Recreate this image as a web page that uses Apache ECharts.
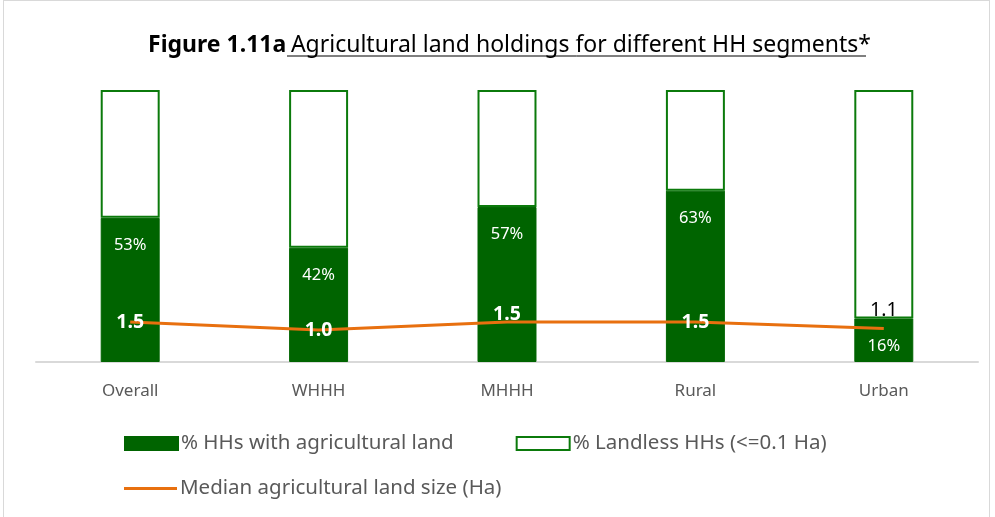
<!DOCTYPE html>
<html>
<head>
<meta charset="utf-8">
<script src="https://cdn.jsdelivr.net/npm/echarts@6/dist/echarts.min.js"></script>
<style>
  html, body { margin: 0; padding: 0; background: #fff; }
  #main { position: absolute; left: 3px; top: 0; width: 987px; height: 520px; border: 1px solid #d9d9d9; box-sizing: border-box; }
</style>
</head>
<body>
<div id="main"></div>
<script>
// segments and values
var categories = ['Overall', 'WHHH', 'MHHH', 'Rural', 'Urban'];
var withLand = [53, 42, 57, 63, 16];      // % HHs with agricultural land
var landless = [47, 58, 43, 37, 84];      // % landless HHs
var medianSize = [1.5, 1.0, 1.5, 1.5, 1.1]; // median land size (Ha)

// how each median label sits (style only)
var medianLabelPos = ['inside', 'inside', 'top', 'inside', 'top'];
var medianLabelGap = [0, 0, -2, 0, 8];

var chart = echarts.init(document.getElementById('main'));
var font = '"Noto Sans", sans-serif';

var lineData = medianSize.map(function (v, i) {
  var onWhite = i === 4;
  return {
    value: v,
    label: {
      position: medianLabelPos[i],
      distance: medianLabelGap[i],
      color: onWhite ? '#000' : '#fff',
      fontWeight: onWhite ? 'normal' : 'bold'
    }
  };
});

var option = {
  backgroundColor: '#fff',
  animation: false,
  textStyle: { fontFamily: font },
  title: {
    text: '{b|Figure 1.11a} {n|Agricultural land holdings for different HH segments*}',
    left: 139,
    top: 28,
    textStyle: {
      rich: {
        b: { fontFamily: font, fontSize: 23, fontWeight: 'bold', color: '#000' },
        n: { fontFamily: font, fontSize: 23, fontWeight: 'normal', color: '#000' }
      }
    }
  },
  legend: [{
    left: 120,
    top: 432,
    padding: 0,
    icon: 'rect',
    itemWidth: 53,
    itemHeight: 13,
    itemGap: 62,
    textStyle: { fontSize: 20.5, color: '#595959', padding: [0, 0, 0, -2] },
    data: ['% HHs with agricultural land', '% Landless HHs (<=0.1 Ha)']
  }, {
    left: 120,
    top: 477,
    padding: 0,
    icon: 'rect',
    itemWidth: 53,
    itemHeight: 3,
    textStyle: { fontSize: 20.5, color: '#595959', padding: [0, 0, 0, -2] },
    data: ['Median agricultural land size (Ha)']
  }],
  grid: { left: 32, right: 11, top: 89, bottom: 157 },
  xAxis: {
    type: 'category',
    data: categories,
    axisLine: { lineStyle: { color: '#d9d9d9', width: 2 } },
    axisTick: { show: false },
    axisLabel: { color: '#595959', fontSize: 17, margin: 21 }
  },
  yAxis: [{
    type: 'value', min: 0, max: 100, show: false
  }, {
    type: 'value', min: -1, max: 16, show: false
  }],
  series: [{
    name: '% HHs with agricultural land',
    type: 'bar',
    stack: 'share',
    barWidth: '31.3%',
    data: withLand,
    itemStyle: { color: '#006400', borderColor: '#006400', borderWidth: 1 },
    label: {
      show: true,
      position: 'insideTop',
      distance: 19,
      color: '#fff',
      fontSize: 16.5,
      formatter: '{c}%'
    }
  }, {
    name: '% Landless HHs (<=0.1 Ha)',
    type: 'bar',
    stack: 'share',
    data: landless,
    itemStyle: { color: '#fff', borderColor: '#0b7a0b', borderWidth: 2 }
  }, {
    name: 'Median agricultural land size (Ha)',
    type: 'line',
    yAxisIndex: 1,
    data: lineData,
    symbol: 'circle',
    symbolSize: 0.1,
    showSymbol: true,
    lineStyle: { color: '#e8700f', width: 3 },
    itemStyle: { color: '#e8700f' },
    z: 5,
    label: {
      show: true,
      fontSize: 19.5,
      formatter: function (p) { return p.value.toFixed(1); }
    }
  }],
  graphic: [{
    type: 'line',
    shape: { x1: 283, y1: 55, x2: 862, y2: 55 },
    style: { stroke: '#000', lineWidth: 1 }
  }]
};

chart.setOption(option);
</script>
</body>
</html>
